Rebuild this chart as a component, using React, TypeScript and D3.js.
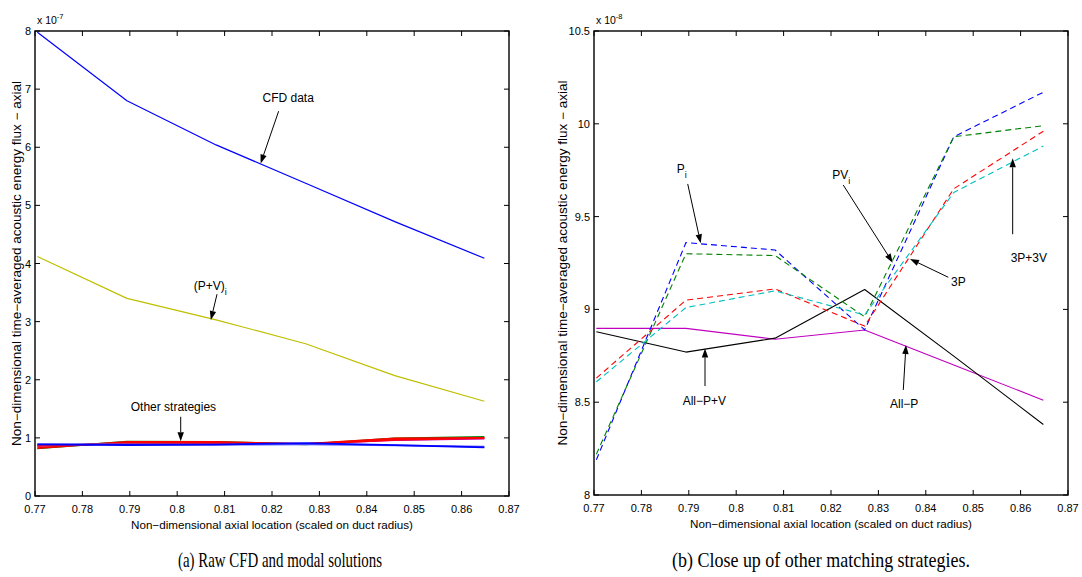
import React from "react";
import * as d3 from "d3";

// ---------- data ----------
const xs = [0.7705, 0.7894, 0.8082, 0.8271, 0.8459, 0.8648];

// left panel (x 1e-7)
const cfdData = [7.98, 6.8, 6.04, 5.38, 4.72, 4.09];
const pvModal = [4.12, 3.4, 3.03, 2.62, 2.07, 1.63];

// right panel (x 1e-8)
const piVals = [8.19, 9.36, 9.32, 8.89, 9.93, 10.17];
const pviVals = [8.22, 9.3, 9.29, 8.96, 9.93, 9.99];
const threePVals = [8.63, 9.05, 9.11, 8.91, 9.65, 9.96];
const threeP3VVals = [8.61, 9.01, 9.1, 8.97, 9.63, 9.88];
const allPVVals = [8.88, 8.77, 8.845, 9.107, 8.748, 8.38];
const allPVals = [8.898, 8.898, 8.839, 8.889, 8.7, 8.511];

const xTicks = [0.77, 0.78, 0.79, 0.8, 0.81, 0.82, 0.83, 0.84, 0.85, 0.86, 0.87];
const xTickLabels = ["0.77", "0.78", "0.79", "0.8", "0.81", "0.82", "0.83", "0.84", "0.85", "0.86", "0.87"];
const leftYTicks = [0, 1, 2, 3, 4, 5, 6, 7, 8];
const rightYTicks = [8, 8.5, 9, 9.5, 10, 10.5];
const rightYTickLabels = ["8", "8.5", "9", "9.5", "10", "10.5"];

const yTitle = "Non\u2212dimensional time\u2212averaged acoustic energy flux \u2212 axial";
const xTitle = "Non\u2212dimensional axial location (scaled on duct radius)";
const captionA = "(a) Raw CFD and modal solutions";
const captionB = "(b) Close up of other matching strategies.";

// annotations in data coordinates: text [x,y], arrow tail [x,y], tip [x,y]
const leftNotes = [
  { main: "CFD data", sub: "", t: [0.818, 6.778], a: [0.8214, 6.62], b: [0.8176, 5.72] },
  { main: "(P+V)", sub: "i", t: [0.8035, 3.544], a: [0.8084, 3.472], b: [0.8071, 3.03] },
  { main: "Other strategies", sub: "", t: [0.7902, 1.462], a: [0.80074, 1.363], b: [0.80074, 0.943] },
];
const rightNotes = [
  { main: "P", sub: "i", t: [0.78745, 9.733], a: [0.78977, 9.676], b: [0.79251, 9.356] },
  { main: "PV", sub: "i", t: [0.82027, 9.701], a: [0.82259, 9.67], b: [0.83302, 9.252] },
  { main: "3P", sub: "", t: [0.84532, 9.126], a: [0.84475, 9.173], b: [0.83667, 9.272] },
  { main: "3P+3V", sub: "", t: [0.85791, 9.257], a: [0.85833, 9.405], b: [0.85833, 9.814] },
  { main: "All\u2212P+V", sub: "", t: [0.78871, 8.485], a: [0.79342, 8.587], b: [0.79342, 8.79] },
  { main: "All\u2212P", sub: "", t: [0.83245, 8.467], a: [0.83525, 8.566], b: [0.83582, 8.808] },
];

const SANS = "'Liberation Sans', Arial, Helvetica, sans-serif";
const SERIF = "'Liberation Serif', 'Times New Roman', serif";

type Scale = d3.ScaleLinear<number, number>;

function Arrow({ x1, y1, x2, y2 }: { x1: number; y1: number; x2: number; y2: number }) {
  const ang = Math.atan2(y2 - y1, x2 - x1);
  const hl = 9, hw = 3.2;
  const bx = x2 - hl * Math.cos(ang), by = y2 - hl * Math.sin(ang);
  const px = -Math.sin(ang) * hw, py = Math.cos(ang) * hw;
  return (
    <g>
      <line x1={x1} y1={y1} x2={bx} y2={by} stroke="#000" strokeWidth={1} />
      <path d={`M${x2},${y2}L${bx + px},${by + py}L${bx - px},${by - py}Z`} fill="#000" />
    </g>
  );
}

function Panel({
  x0, x1, yTop, yBot, yDomain, yTicks, yLabels, exp, series, notes, caption, captionX, captionLen, titleOff,
}: {
  x0: number; x1: number; yTop: number; yBot: number; yDomain: [number, number];
  yTicks: number[]; yLabels: string[]; exp: string;
  series: { vals: number[]; color: string; width: number; dash?: string }[];
  notes: { main: string; sub: string; t: number[]; a: number[]; b: number[] }[];
  caption: string; captionX: number; captionLen: number; titleOff: number;
}) {
  const x: Scale = d3.scaleLinear().domain([0.77, 0.87]).range([x0, x1]);
  const y: Scale = d3.scaleLinear().domain(yDomain).range([yBot, yTop]);
  const line = d3.line<number>().x((_, i) => x(xs[i])).y((v) => y(v));
  const tl = 5;
  const cx = (x0 + x1) / 2;
  const cy = (yTop + yBot) / 2;
  return (
    <g>
      {series.map((s, i) => (
        <path key={i} d={line(s.vals) || ""} fill="none" stroke={s.color} strokeWidth={s.width}
          strokeDasharray={s.dash} strokeLinejoin="round" />
      ))}
      {xTicks.map((t, i) => (
        <g key={"xt" + i}>
          <line x1={x(t)} x2={x(t)} y1={yBot} y2={yBot - tl} stroke="#000" strokeWidth={1} />
          <line x1={x(t)} x2={x(t)} y1={yTop} y2={yTop + tl} stroke="#000" strokeWidth={1} />
          <text x={x(t)} y={yBot + 17} textAnchor="middle" fontFamily={SANS} fontSize={11}>
            {xTickLabels[i]}
          </text>
        </g>
      ))}
      {yTicks.map((t, i) => (
        <g key={"yt" + i}>
          <line x1={x0} x2={x0 + tl} y1={y(t)} y2={y(t)} stroke="#000" strokeWidth={1} />
          <line x1={x1} x2={x1 - tl} y1={y(t)} y2={y(t)} stroke="#000" strokeWidth={1} />
          <text x={x0 - 4} y={y(t) + 4} textAnchor="end" fontFamily={SANS} fontSize={11}>
            {yLabels[i]}
          </text>
        </g>
      ))}
      <rect x={x0} y={yTop} width={x1 - x0} height={yBot - yTop} fill="none" stroke="#000" strokeWidth={1.4} />
      <text x={x0 + 2} y={yTop - 7} fontFamily={SANS} fontSize={10.5}>
        x 10<tspan fontSize={7.5} dy={-5}>{exp}</tspan>
      </text>
      <text x={cx} y={yBot + 33} textAnchor="middle" fontFamily={SANS} fontSize={11}
        textLength={282} lengthAdjust="spacingAndGlyphs">{xTitle}</text>
      <text transform={`translate(${x0 - titleOff},${cy}) rotate(-90)`} textAnchor="middle" fontFamily={SANS}
        fontSize={12} textLength={365} lengthAdjust="spacingAndGlyphs">{yTitle}</text>
      <text x={captionX} y={567} textAnchor="middle" fontFamily={SERIF} fontSize={21}
        textLength={captionLen} lengthAdjust="spacingAndGlyphs">{caption}</text>
      {notes.map((n, i) => (
        <g key={"n" + i}>
          <Arrow x1={x(n.a[0])} y1={y(n.a[1])} x2={x(n.b[0])} y2={y(n.b[1])} />
          <text x={x(n.t[0])} y={y(n.t[1])} fontFamily={SANS} fontSize={12}>
            {n.main}
            {n.sub ? <tspan fontSize={9} dy={5}>{n.sub}</tspan> : null}
          </text>
        </g>
      ))}
    </g>
  );
}

export default function App() {
  const scale01 = (a: number[]) => a.map((v) => v / 10);
  const leftSeries = [
    { vals: scale01(threeP3VVals), color: "#bf00bf", width: 1.8 },
    { vals: scale01(piVals), color: "#008000", width: 1.8 },
    { vals: scale01(threePVals), color: "#ff0000", width: 1.8 },
    { vals: scale01(pviVals), color: "#ff0000", width: 1.8 },
    { vals: scale01(allPVals), color: "#5a5aff", width: 1.8 },
    { vals: scale01(allPVVals), color: "#0000ff", width: 1.8 },
    { vals: cfdData, color: "#0000ff", width: 1.2 },
    { vals: pvModal, color: "#bfbf00", width: 1.2 },
  ];
  const dash = "6,4";
  const rightSeries = [
    { vals: allPVals, color: "#bf00bf", width: 1.1 },
    { vals: allPVVals, color: "#000000", width: 1.1 },
    { vals: piVals, color: "#0000ff", width: 1.1, dash },
    { vals: pviVals, color: "#008000", width: 1.1, dash },
    { vals: threePVals, color: "#ff0000", width: 1.1, dash },
    { vals: threeP3VVals, color: "#00bfbf", width: 1.1, dash },
  ];
  return (
    <svg width={1082} height={577} style={{ position: "absolute", left: 0, top: 0, background: "#fff" }}>
      <rect width={1082} height={577} fill="#fff" />
      <Panel x0={35} x1={509} yTop={31} yBot={496} yDomain={[0, 8]} yTicks={leftYTicks}
        yLabels={leftYTicks.map(String)} exp="-7" series={leftSeries} notes={leftNotes}
        caption={captionA} captionX={280} captionLen={204} titleOff={14} />
      <Panel x0={594} x1={1068} yTop={31} yBot={495} yDomain={[8, 10.5]} yTicks={rightYTicks}
        yLabels={rightYTickLabels} exp="-8" series={rightSeries} notes={rightNotes}
        caption={captionB} captionX={821} captionLen={298} titleOff={27} />
    </svg>
  );
}
